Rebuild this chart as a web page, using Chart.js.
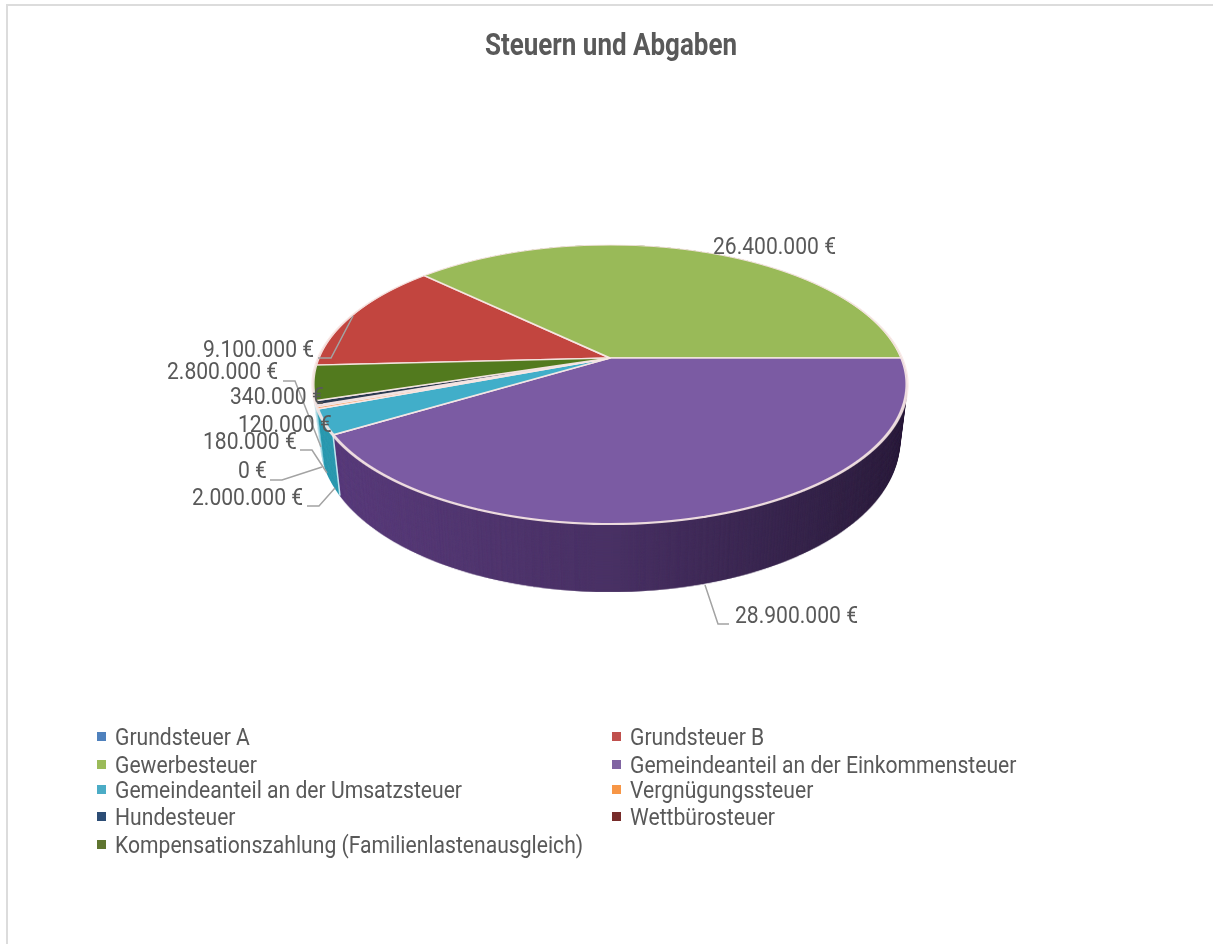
<!DOCTYPE html>
<html><head><meta charset="utf-8">
<style>
html,body{margin:0;padding:0;background:#fff;overflow:hidden;width:1213px;height:944px}
#c{position:absolute;left:0;top:0}
#frame{position:absolute;left:6px;top:4px;width:1300px;height:1100px;border:2px solid #dcdcdc;box-sizing:border-box}
</style></head><body>
<div id="frame"></div>
<canvas id="c" width="1213" height="944"></canvas>
<script src="https://cdn.jsdelivr.net/npm/chart.js@4"></script>
<script>
const titleText = 'Steuern und Abgaben';
const categories = ['Grundsteuer A','Grundsteuer B','Gewerbesteuer','Gemeindeanteil an der Einkommensteuer','Gemeindeanteil an der Umsatzsteuer','Vergnügungssteuer','Hundesteuer','Wettbürosteuer','Kompensationszahlung (Familienlastenausgleich)'];
const values = [0,9100000,26400000,28900000,2000000,180000,120000,340000,2800000];
const faceColors = ['#4f81bd','#c2453f','#99ba58','#7b5ba3','#41aec9','#f7a46a','#2c4d75','#2c3a50','#527a1e'];
const wallColors = ['#3a6190','#8e3330','#6f8a40','#5c3e7e','#2f9db3','#8fd0df','#9fd6e3','#b6e0ea','#d8eef3'];
const legendColors = ['#4f81bd','#c0504d','#9bbb59','#8064a2','#4bacc6','#f79646','#2c4d75','#772c2a','#5f7530'];

const fmt = v => v.toLocaleString('de-DE') + ' €';

/* placement of value labels: index into values, left edge, centre y, leader polyline */
const labelLayout = [
 {i:2,x:713,y:248},
 {i:1,x:203,y:351,lead:[[318,358],[331,358],[353,316]]},
 {i:8,x:167,y:373,lead:[[283,381],[295,381],[321,447]]},
 {i:7,x:230,y:398},
 {i:6,x:238,y:426},
 {i:5,x:203,y:443,lead:[[300,450],[312,450],[327,473]]},
 {i:0,x:238,y:472,lead:[[270,480],[282,480],[322,467]]},
 {i:4,x:192,y:499,lead:[[307,506],[319,506],[335,488]]},
 {i:3,x:735,y:617,lead:[[705,585],[718,624],[729,624]]}
];
const legendCols = [97,612], legendRows = [739,767,792,819,847];

/* projective view of the pie plane */
const apexX=610, apexY=358, pA=291.6, pB=134.5, pK=-0.19, yTop=240, yBot=530;

function renderFace(ctx, arcs, colors, bw, bc){
  const cx=arcs[0].x, cy=arcs[0].y, R=arcs[0].outerRadius;
  for(let ys=yTop; ys<yBot; ys++){
    const Y0=ys-apexY, Y1=Y0+1, Ym=Y0+.5;
    const v0=Y0/(pB-pK*Y0), v1=Y1/(pB-pK*Y1), vm=Ym/(pB-pK*Ym);
    const sx=pA/(1+pK*vm)/R, sy=1/(R*(v1-v0));
    ctx.save();
    ctx.beginPath(); ctx.rect(0,ys,1213,1); ctx.clip();
    ctx.transform(sx,0,0,sy, apexX-cx*sx, ys-(cy+R*v0)*sy);
    arcs.forEach((a,i)=>{
      if(!a.circumference) return;
      const saved=a.options;
      a.options=Object.assign({},saved,{backgroundColor:colors[i],borderColor:bc,borderWidth:bw});
      a.draw(ctx);
      a.options=saved;
    });
    ctx.restore();
  }
}
function project(a,ang,t){
  const u=Math.cos(ang), v=Math.sin(ang);
  const X=pA*u/(1+pK*v), Y=pB*v/(1+pK*v);
  return [apexX+X*(1-.025*t), apexY+Y*(1+.08*t)+54.6*t];
}
const pie3d = {
  id:'pie3d',
  beforeDatasetsDraw(chart){
    const ctx=chart.ctx, arcs=chart.getDatasetMeta(0).data;
    const off=document.createElement('canvas'); off.width=1213; off.height=944;
    const o=off.getContext('2d');
    renderFace(o,arcs,wallColors,0,'rgba(0,0,0,0)');
    o.globalCompositeOperation='source-atop';
    const g=o.createLinearGradient(313,0,907,0);
    g.addColorStop(0,'rgba(0,0,0,0)'); g.addColorStop(.5,'rgba(0,0,0,.2)'); g.addColorStop(1,'rgba(0,0,0,.5)');
    o.fillStyle=g; o.fillRect(0,0,1213,944);
    ctx.save();
    for(let n=160;n>=0;n--){
      const t=n/160, s=1-.025*t, q=1+.08*t, d=54.6*t;
      ctx.setTransform(s,0,0,q, apexX*(1-s), apexY*(1-q)+d);
      ctx.drawImage(off,0,0);
    }
    ctx.restore();
    const p=arcs[3], a0=project(p,p.endAngle,0), a1=project(p,p.endAngle,1);
    ctx.save(); ctx.strokeStyle='#bfe4ee'; ctx.lineWidth=1.5;
    ctx.beginPath(); ctx.moveTo(a0[0],a0[1]); ctx.lineTo(a1[0],a1[1]); ctx.stroke(); ctx.restore();
    renderFace(ctx,arcs,faceColors,3,'rgba(248,232,230,.92)');
    return false;
  },
  afterDraw(chart){
    const ctx=chart.ctx;
    ctx.save();
    ctx.textBaseline='middle'; ctx.textAlign='center';
    const put=(s,x,y,cf)=>{ctx.fillText(s,x,y,ctx.measureText(s).width*cf);};
    // title
    ctx.font='bold 32px Roboto'; ctx.fillStyle='#595959';
    ctx.fillText(titleText,611,47,252);
    ctx.textAlign='left';
    // leaders
    ctx.strokeStyle='#a3a3a3'; ctx.lineWidth=1.5;
    labelLayout.forEach(l=>{ if(!l.lead) return;
      ctx.beginPath(); l.lead.forEach((p,k)=>k?ctx.lineTo(p[0],p[1]):ctx.moveTo(p[0],p[1])); ctx.stroke();});
    // labels
    ctx.font='24px Roboto'; ctx.fillStyle='#595959';
    const cfL=123/ctx.measureText('26.400.000 €').width;
    labelLayout.forEach(l=>put(fmt(values[l.i]),l.x,l.y,cfL));
    // legend
    const cfG=347/ctx.measureText('Gemeindeanteil an der Umsatzsteuer').width;
    categories.forEach((c,i)=>{
      const col=i%2, row=Math.floor(i/2), x=legendCols[col], y=legendRows[row];
      ctx.fillStyle=legendColors[i]; ctx.fillRect(x,y-7,9,9);
      ctx.fillStyle='#595959'; put(c,x+18,y,cfG);
    });
    ctx.restore();
  }
};
new Chart(document.getElementById('c'),{
  type:'pie',
  data:{labels:categories,datasets:[{data:values,backgroundColor:faceColors,radius:290,borderWidth:2}]},
  options:{responsive:false,animation:false,rotation:-93,
    plugins:{legend:{display:false},tooltip:{enabled:false},title:{display:false}}},
  plugins:[pie3d]
});
</script>
</body></html>
